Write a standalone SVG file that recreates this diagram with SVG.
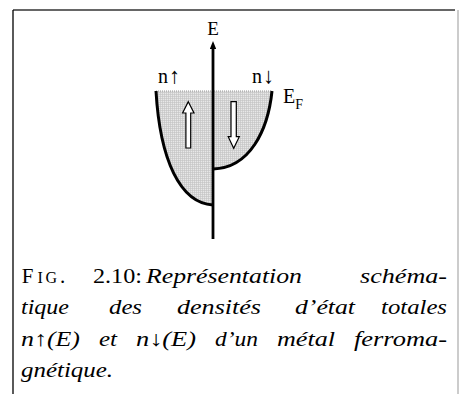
<svg xmlns="http://www.w3.org/2000/svg" width="459" height="394" viewBox="0 0 459 394">
<style>
.t{font-family:"Liberation Serif","DejaVu Serif",serif;fill:#000}
.it{font-style:italic}
.up{font-style:normal}
.cap{font-size:21px}
.lbl{font-size:20px}
</style>
<defs>
<pattern id="grid" width="2" height="2" patternUnits="userSpaceOnUse">
<rect width="2" height="2" fill="#e8e8e8"/>
<rect width="2" height="0.6" fill="#c2c2c2"/>
<rect width="0.6" height="2" fill="#c2c2c2"/>
</pattern>
<marker id="ah" viewBox="0 0 8 6.4" refX="1" refY="3.2" markerWidth="2.86" markerHeight="2.29" orient="auto" markerUnits="strokeWidth">
<path d="M0,0 L8,3.2 L0,6.4 Z" fill="#000"/>
</marker>
</defs>
<rect width="459" height="394" fill="#fff"/>
<g id="frame">
<line x1="13" y1="10" x2="455" y2="10" stroke="#333" stroke-width="1.3"/>
<line x1="13" y1="10" x2="13" y2="394" stroke="#000" stroke-width="1.3"/>
<line x1="458" y1="10" x2="458" y2="394" stroke="#999" stroke-width="1"/>
</g>
<g id="dos">
<path d="M156,91 C160,160 180,203 213,205 L213,169 C250,168 268,130 272,91 Z" fill="url(#grid)"/>
<line x1="156" y1="91" x2="272" y2="91" stroke="#999" stroke-width="1" stroke-dasharray="1,1"/>
<path d="M156,91 C160,160 180,203 213,205" fill="none" stroke="#000" stroke-width="3"/>
<path d="M213,169 C250,168 268,130 272,91" fill="none" stroke="#000" stroke-width="3"/>
</g>
<g id="connectors">
<line x1="213" y1="239" x2="213" y2="48" stroke="#000" stroke-width="2.8" marker-end="url(#ah)"/>
</g>
<g id="spin-up">
<polygon points="188.3,101.7 194,113 190.7,113 190.7,148 185.9,148 185.9,113 182.6,113" fill="#fff" stroke="#000" stroke-width="1.2"/>
</g>
<g id="spin-down">
<polygon points="231,101.7 236.3,101.7 236.3,136.7 239.3,136.7 233.7,148.3 228.2,136.7 231,136.7" fill="#fff" stroke="#000" stroke-width="1.2"/>
</g>
<g id="labels">
<text class="t" font-size="19" x="213" y="35" text-anchor="middle">E</text>
<text class="t lbl" x="158" y="83">n<tspan x="169" font-size="22">↑</tspan></text>
<text class="t lbl" x="252" y="83">n<tspan x="263" font-size="22">↓</tspan></text>
<text class="t lbl" x="283" y="103">E<tspan font-size="14" dy="5.5">F</tspan></text>
</g>
<g id="caption" class="t cap">
<text x="21.7" y="283">F<tspan x="37.5" font-size="16">I</tspan><tspan x="45.5" font-size="16">G</tspan><tspan x="60">.</tspan></text>
<text x="93" y="283" textLength="49" lengthAdjust="spacingAndGlyphs">2.10:</text>
<text class="it" x="146" y="283" textLength="156" lengthAdjust="spacingAndGlyphs">Représentation</text>
<text class="it" x="360" y="283" textLength="87" lengthAdjust="spacingAndGlyphs">schéma-</text>

<text class="it" x="21" y="314.3" textLength="48" lengthAdjust="spacingAndGlyphs">tique</text>
<text class="it" x="109" y="314.3" textLength="33" lengthAdjust="spacingAndGlyphs">des</text>
<text class="it" x="177" y="314.3" textLength="84" lengthAdjust="spacingAndGlyphs">densités</text>
<text class="it" x="295" y="314.3" textLength="60" lengthAdjust="spacingAndGlyphs">d’état</text>
<text class="it" x="381" y="314.3" textLength="66" lengthAdjust="spacingAndGlyphs">totales</text>

<text class="it" x="21" y="345.7" textLength="59" lengthAdjust="spacingAndGlyphs">n<tspan class="up">↑</tspan>(E)</text>
<text class="it" x="99" y="345.7" textLength="18" lengthAdjust="spacingAndGlyphs">et</text>
<text class="it" x="136" y="345.7" textLength="60" lengthAdjust="spacingAndGlyphs">n<tspan class="up">↓</tspan>(E)</text>
<text class="it" x="215" y="345.7" textLength="43" lengthAdjust="spacingAndGlyphs">d’un</text>
<text class="it" x="277" y="345.7" textLength="58" lengthAdjust="spacingAndGlyphs">métal</text>
<text class="it" x="354" y="345.7" textLength="93" lengthAdjust="spacingAndGlyphs">ferroma-</text>

<text class="it" x="21" y="377" textLength="92" lengthAdjust="spacingAndGlyphs">gnétique.</text>
</g>
</svg>
